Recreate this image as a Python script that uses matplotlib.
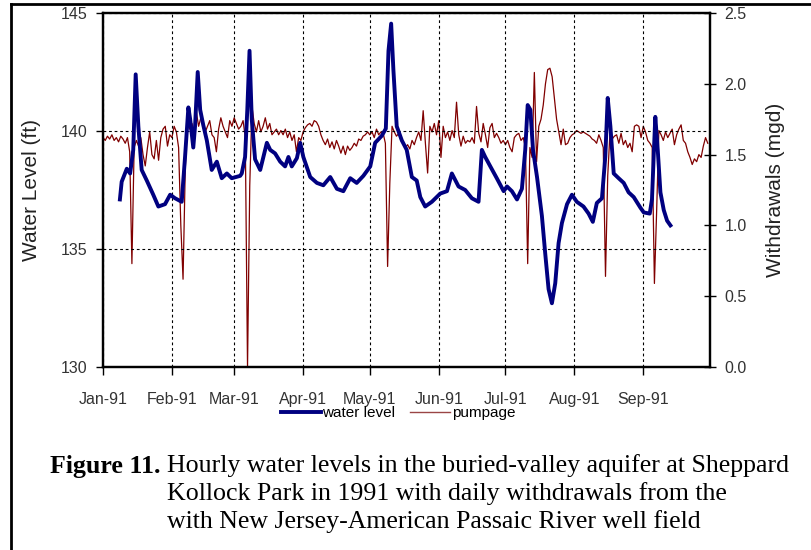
import numpy as np
import pandas as pd
import matplotlib
matplotlib.use('Agg')
import matplotlib.pyplot as plt
from matplotlib.lines import Line2D

# water level, hourly record (day of year from Jan 1, ft)
wl_day = [7.6, 8.4, 10.7, 12.2, 13.6, 14.7, 15.9, 17.4, 19.7, 22.6, 24.9, 27.9, 30.2, 32.4, 35.4,
          36.9, 38.4, 39.2, 40.6, 41.4, 42.6, 43.7, 45.1, 46.7, 48.9, 51.2, 53.4, 55.7, 57.9, 61.7,
          62.4, 63.9, 64.9, 65.9, 66.9, 68.4, 70.7, 73.7, 75.2, 77.4, 79.7, 81.9, 83.4, 84.9, 87.2,
          88.7, 90.1, 93.2, 96.2, 99.1, 102.2, 105.2, 108.1, 111.2, 114.1, 117.1, 120.2, 122.4,
          125.4, 127.2, 128.4, 129.6, 130.6, 132.1, 134.4, 136.6, 138.9, 141.1, 142.7, 144.9, 147.9,
          151.7, 154.7, 156.9, 159.9, 162.9, 165.9, 168.9, 170.4, 171.9, 174.2, 177.1, 180.2, 181.7,
          183.9, 186.2, 188.4, 189.9, 191.0, 192.2, 193.4, 195.2, 197.4, 198.9, 200.4, 201.9, 203.4,
          204.9, 206.4, 208.7, 210.9, 213.1, 216.1, 218.4, 220.3, 222.1, 224.4, 225.9, 227.0, 228.2,
          229.7, 231.9, 234.2, 236.4, 238.7, 241.7, 243.2, 245.9, 246.9, 247.7, 248.4, 249.5, 250.7,
          252.2, 253.7, 255.2]
wl_ft = [137.1, 137.85, 138.4, 138.2, 139.2, 142.4, 140.2, 138.35, 137.9, 137.3, 136.8, 136.9, 137.3, 137.15, 137.0,
         138.9, 141.0, 140.5, 139.3, 140.2, 142.5, 140.9, 140.25, 139.6, 138.35, 138.7, 138.0, 138.2, 138.0, 138.1,
         138.2, 138.9, 140.9, 143.4, 140.5, 138.8, 138.35, 139.5, 139.2, 139.05, 138.7, 138.5, 138.9, 138.5, 138.85,
         139.5, 138.9, 138.05, 137.8, 137.7, 138.05, 137.55, 137.45, 138.0, 137.8, 138.1, 138.5, 139.5,
         139.8, 140.1, 143.4, 144.55, 142.6, 140.2, 139.6, 139.2, 138.05, 137.9, 137.2, 136.8, 137.0,
         137.35, 137.45, 138.2, 137.65, 137.5, 137.15, 137.0, 139.2, 138.9, 138.5, 138.0, 137.45, 137.65,
         137.45, 137.1, 137.55, 139.2, 141.1, 140.9, 139.2, 138.05, 136.4, 134.8, 133.3, 132.7, 133.55,
         135.25, 136.1, 136.9, 137.3, 137.0, 136.8, 136.5, 136.15, 136.95, 137.15, 138.9, 141.4, 140.2,
         138.2, 138.0, 137.8, 137.4, 137.2, 136.75, 136.55, 136.5, 137.1, 139.0, 140.6, 139.2, 137.4,
         136.65, 136.2, 136.0]

# daily pumpage, mgd, Jan 1 .. Sep 30
pump_jan = [1.62, 1.60, 1.63, 1.61, 1.64, 1.60, 1.62, 1.59, 1.63, 1.61, 1.58, 1.62, 1.52, 0.73, 1.55, 1.60,
            1.56, 1.62, 1.50, 1.42, 1.55, 1.66, 1.50, 1.47, 1.60, 1.46, 1.62, 1.68, 1.70, 1.56, 1.64]
pump_feb = [1.62, 1.70, 1.66, 1.55, 1.00, 0.62, 1.40, 1.74, 1.68, 1.72, 1.66, 1.80, 1.70, 1.76,
            1.72, 1.66, 1.70, 1.74, 1.64, 1.62, 1.52, 1.68, 1.76, 1.70, 1.66, 1.62, 1.74, 1.70]
pump_mar = [1.76, 1.72, 1.68, 1.70, 1.74, 1.62, 0.00, 1.28, 1.84, 1.72, 1.66, 1.74, 1.66, 1.70, 1.76, 1.68,
            1.72, 1.64, 1.66, 1.68, 1.64, 1.67, 1.64, 1.68, 1.62, 1.66, 1.60, 1.64, 1.52, 1.62, 1.60]
pump_apr = [1.66, 1.69, 1.71, 1.72, 1.70, 1.74, 1.73, 1.70, 1.64, 1.60, 1.57, 1.61, 1.55, 1.59, 1.54,
            1.60, 1.56, 1.51, 1.56, 1.50, 1.56, 1.53, 1.55, 1.58, 1.56, 1.61, 1.60, 1.63, 1.64, 1.66]
pump_may = [1.64, 1.66, 1.62, 1.68, 1.64, 1.66, 1.65, 1.58, 0.71, 1.30, 1.70, 1.66, 1.63, 1.65, 1.60, 1.58,
            1.55, 1.57, 1.54, 1.60, 1.57, 1.62, 1.66, 1.60, 1.81, 1.58, 1.37, 1.70, 1.66, 1.72, 1.64]
pump_jun = [1.74, 1.48, 1.70, 1.62, 1.66, 1.60, 1.67, 1.62, 1.87, 1.64, 1.56, 1.63, 1.58, 1.60, 1.59,
            1.62, 1.58, 1.84, 1.65, 1.59, 1.72, 1.64, 1.55, 1.69, 1.72, 1.62, 1.65, 1.62, 1.58, 1.60]
pump_jul = [1.57, 1.60, 1.55, 1.52, 1.62, 1.64, 1.65, 1.60, 1.62, 1.55, 0.73, 1.55, 1.48, 2.08, 1.45, 1.70,
            1.75, 1.85, 2.00, 2.10, 2.11, 2.05, 1.90, 1.75, 1.66, 1.57, 1.68, 1.57, 1.58, 1.62, 1.64]
pump_aug = [1.65, 1.67, 1.66, 1.65, 1.66, 1.65, 1.64, 1.63, 1.61, 1.60, 1.58, 1.64, 1.60, 1.55, 0.64, 1.35,
            1.65, 1.61, 1.63, 1.64, 1.58, 1.65, 1.57, 1.60, 1.55, 1.58, 1.52, 1.70, 1.71, 1.70, 1.62]
pump_sep = [1.70, 1.66, 1.60, 1.58, 1.55, 0.59, 1.10, 1.67, 1.64, 1.60, 1.66, 1.62, 1.65, 1.68, 1.57,
            1.64, 1.68, 1.71, 1.60, 1.58, 1.52, 1.48, 1.43, 1.47, 1.45, 1.50, 1.48, 1.56, 1.62, 1.58]

month_labels = ['Jan-91', 'Feb-91', 'Mar-91', 'Apr-91', 'May-91', 'Jun-91', 'Jul-91', 'Aug-91', 'Sep-91']

caption_lines = ['Hourly water levels in the buried-valley aquifer at Sheppard',
                 'Kollock Park in 1991 with daily withdrawals from the',
                 'with New Jersey-American Passaic River well field']

start = pd.Timestamp('1991-01-01')
wl_time = start + pd.to_timedelta(wl_day, unit='D')
pumpage = pump_jan + pump_feb + pump_mar + pump_apr + pump_may + pump_jun + pump_jul + pump_aug + pump_sep
pump_time = pd.date_range(start, periods=len(pumpage), freq='D')
month_starts = pd.date_range(start, periods=len(month_labels), freq='MS')

plt.rcParams['font.family'] = ['Liberation Sans', 'DejaVu Sans']

W, H = 811, 550
fig = plt.figure(figsize=(W / 100, H / 100), dpi=100)
ax = fig.add_axes([103 / W, 1 - 367 / H, (710 - 103) / W, (367 - 13) / H])
ax2 = ax.twinx()

ax2.plot(pump_time, pumpage, color='#800000', lw=0.9)
ax.plot(wl_time, wl_ft, color='#000080', lw=2.8, solid_joinstyle='round')
ax.set_zorder(ax2.get_zorder() + 1)
ax.patch.set_visible(False)

ax.set_xlim(start, pd.Timestamp('1991-10-01'))
ax.set_ylim(130, 145)
ax.set_yticks([130, 135, 140, 145])
ax2.set_ylim(0, 2.5)
ax2.set_yticks([0, 0.5, 1.0, 1.5, 2.0, 2.5])
ax2.yaxis.set_major_formatter(matplotlib.ticker.FormatStrFormatter('%.1f'))
ax.set_xticks(month_starts)
ax.set_xticklabels(month_labels)

ax.grid(True, color='black', linestyle=(0, (2.5, 2.5)), linewidth=0.8)

for a in (ax, ax2):
    for s in a.spines.values():
        s.set_linewidth(1.6)

tick_col = '#333333'
ax.tick_params(axis='y', direction='out', length=5, width=1, labelsize=11.5, labelcolor=tick_col, pad=6)
ax.tick_params(axis='x', direction='out', length=6, width=1, labelsize=11.5, labelcolor=tick_col, pad=12)
ax2.tick_params(axis='y', direction='inout', length=9, width=1, labelsize=11.5, labelcolor=tick_col, pad=6)

ax.set_ylabel('Water Level (ft)', fontsize=15, color='#222222')
ax.yaxis.set_label_coords(-0.102, 0.5)
ax2.set_ylabel('Withdrawals (mgd)', fontsize=15, color='#222222')
ax2.yaxis.set_label_coords(1.092, 0.5)

handles = [Line2D([], [], color='#000080', lw=2.8), Line2D([], [], color='#9a4545', lw=1.0)]
fig.legend(handles, ['water level', 'pumpage'], loc='center', bbox_to_anchor=(398 / W, 1 - 413 / H),
           ncol=2, frameon=False, fontsize=11, handlelength=2.6, handletextpad=0.1, columnspacing=1.0)

# caption under the chart, hanging indent after the bold label
cap_size = 18.6
renderer = fig.canvas.get_renderer()
lab = fig.text(50 / W, 1 - 466 / H, 'Figure 11.', fontsize=cap_size, fontweight='bold',
               family='Liberation Serif', va='center', ha='left')
indent = 50 + lab.get_window_extent(renderer).width + 0.25 * cap_size * 100 / 72
for i, line in enumerate(caption_lines):
    fig.text(indent / W, 1 - (466 + 28 * i) / H, line, fontsize=cap_size, family='Liberation Serif',
             va='center', ha='left')

# page frame (top and left edges)
fig.add_artist(Line2D([11 / W, 11 / W], [0, 1 - 4 / H], color='black', lw=2))
fig.add_artist(Line2D([11 / W, 1], [1 - 4 / H, 1 - 4 / H], color='black', lw=2))

fig.savefig('out.png', dpi=100)
